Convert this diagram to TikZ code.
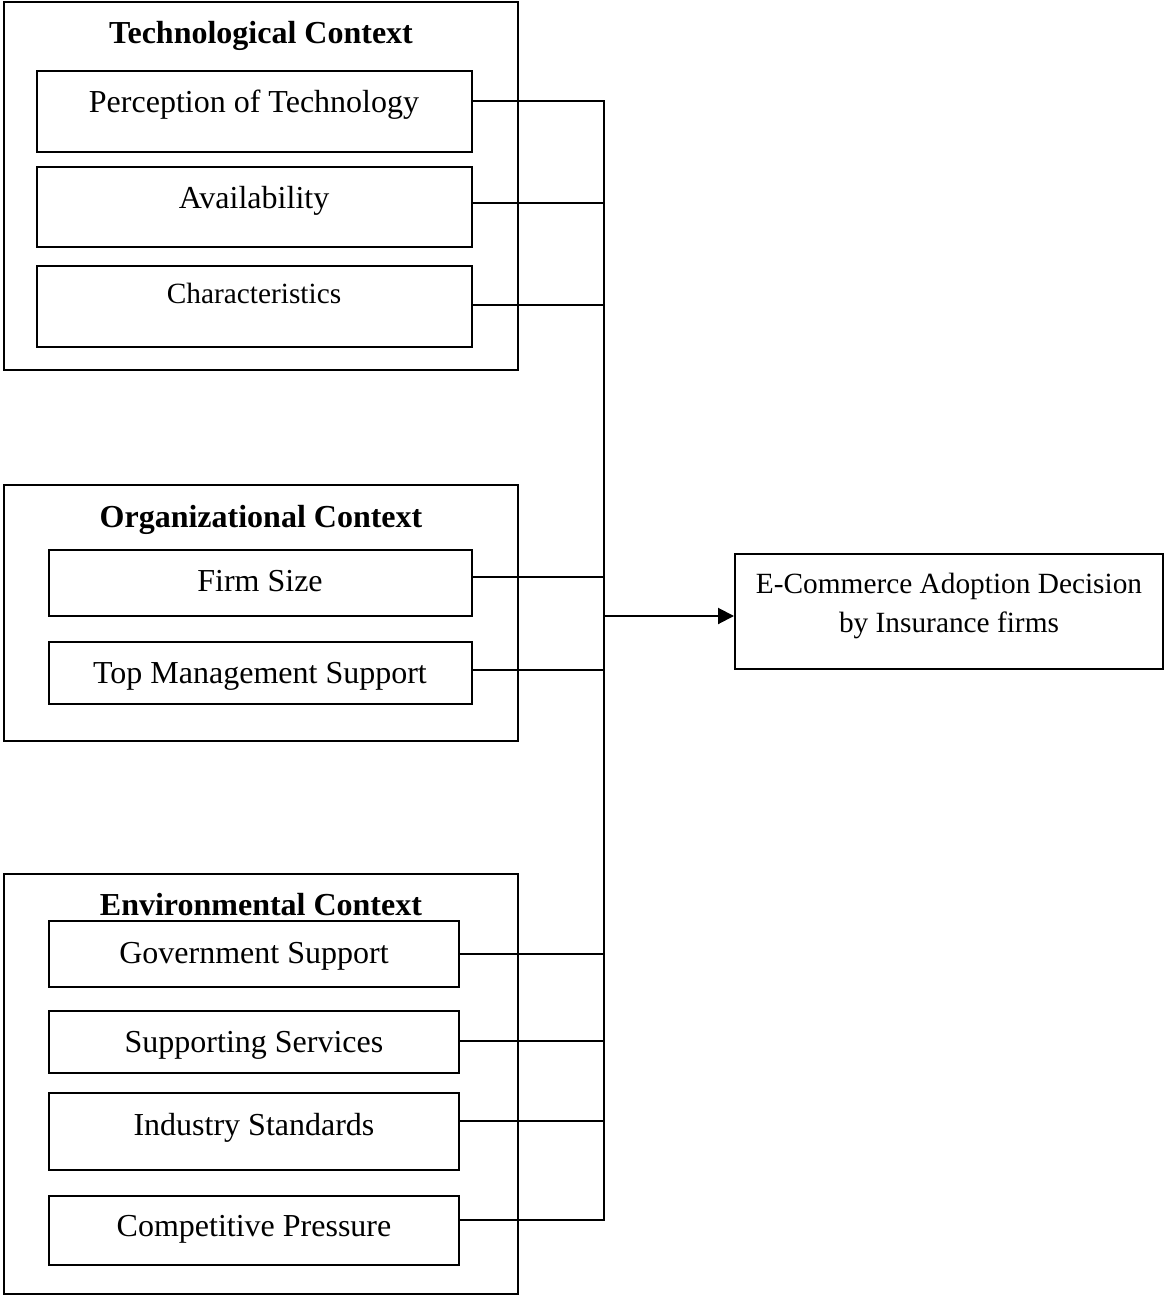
\documentclass[tikz,border=0pt]{standalone}
\usepackage{fontspec}
\setmainfont{Liberation Serif}
\usetikzlibrary{fit,arrows.meta}

\tikzset{
  groupbox/.style={draw, line width=0.75pt, inner sep=0pt},
  itembox/.style={draw, line width=0.75pt, inner sep=0pt},
  itemtext/.style={anchor=base, inner sep=0pt, font=\fontsize{12}{14}\selectfont},
  smalltext/.style={anchor=base, inner sep=0pt, font=\fontsize{11}{13}\selectfont},
  titletext/.style={anchor=base, inner sep=0pt, font=\fontsize{12}{14}\selectfont\bfseries},
  conn/.style={line width=0.75pt},
  flow/.style={line width=0.75pt, -{Triangle[length=6pt,width=6pt]}}
}

\begin{document}
\begin{tikzpicture}[x=0.375pt, y=-0.375pt]
  \useasboundingbox (0,0) rectangle (1164,1296);

  % Technological context
  \node[groupbox, fit={(4,2)(518,370)}] (tech) {};
  \node[titletext] (techT) at (261,44) {Technological Context};
  \node[itembox, fit={(37,71)(472,152)}] (perc) {};
  \node[itemtext] (percT) at (254,113) {Perception of Technology};
  \node[itembox, fit={(37,167)(472,247)}] (avail) {};
  \node[itemtext] (availT) at (254,209) {Availability};
  \node[itembox, fit={(37,266)(472,347)}] (chars) {};
  \node[smalltext] (charsT) at (254,304) {Characteristics};

  % Organizational context
  \node[groupbox, fit={(4,485)(518,741)}] (org) {};
  \node[titletext] (orgT) at (261,527) {Organizational Context};
  \node[itembox, fit={(49,550)(472,616)}] (size) {};
  \node[itemtext] (sizeT) at (260,591) {Firm Size};
  \node[itembox, fit={(49,642)(472,704)}] (mgmt) {};
  \node[itemtext] (mgmtT) at (260,683) {Top Management Support};

  % Environmental context
  \node[groupbox, fit={(4,874)(518,1294)}] (env) {};
  \node[titletext] (envT) at (261,915) {Environmental Context};
  \node[itembox, fit={(49,921)(459,987)}] (gov) {};
  \node[itemtext] (govT) at (254,963) {Government Support};
  \node[itembox, fit={(49,1011)(459,1073)}] (serv) {};
  \node[itemtext] (servT) at (254,1052) {Supporting Services};
  \node[itembox, fit={(49,1093)(459,1170)}] (std) {};
  \node[itemtext] (stdT) at (254,1135) {Industry Standards};
  \node[itembox, fit={(49,1196)(459,1265)}] (comp) {};
  \node[itemtext] (compT) at (254,1236) {Competitive Pressure};

  % Outcome
  \node[itembox, fit={(735,554)(1163,669)}] (adopt) {};
  \node[smalltext] (adoptA) at (949,593) {E-Commerce Adoption Decision};
  \node[smalltext] (adoptB) at (949,632) {by Insurance firms};

  % Collecting bus
  \coordinate (bustop) at (604,101);
  \coordinate (busbot) at (604,1220);
  \coordinate (busjoin) at (604,616);
  \draw[conn, line cap=rect] (bustop) -- (busbot);

  \draw[conn] (perc.east |- 0,101) -- (bustop |- 0,101);
  \draw[conn] (avail.east |- 0,203) -- (bustop |- 0,203);
  \draw[conn] (chars.east |- 0,305) -- (bustop |- 0,305);
  \draw[conn] (size.east |- 0,577) -- (bustop |- 0,577);
  \draw[conn] (mgmt.east |- 0,670) -- (bustop |- 0,670);
  \draw[conn] (gov.east |- 0,954) -- (bustop |- 0,954);
  \draw[conn] (serv.east |- 0,1041) -- (bustop |- 0,1041);
  \draw[conn] (std.east |- 0,1121) -- (bustop |- 0,1121);
  \draw[conn] (comp.east |- 0,1220) -- (busbot);

  \draw[flow] (busjoin) -- (adopt.west |- busjoin);
\end{tikzpicture}
\end{document}
